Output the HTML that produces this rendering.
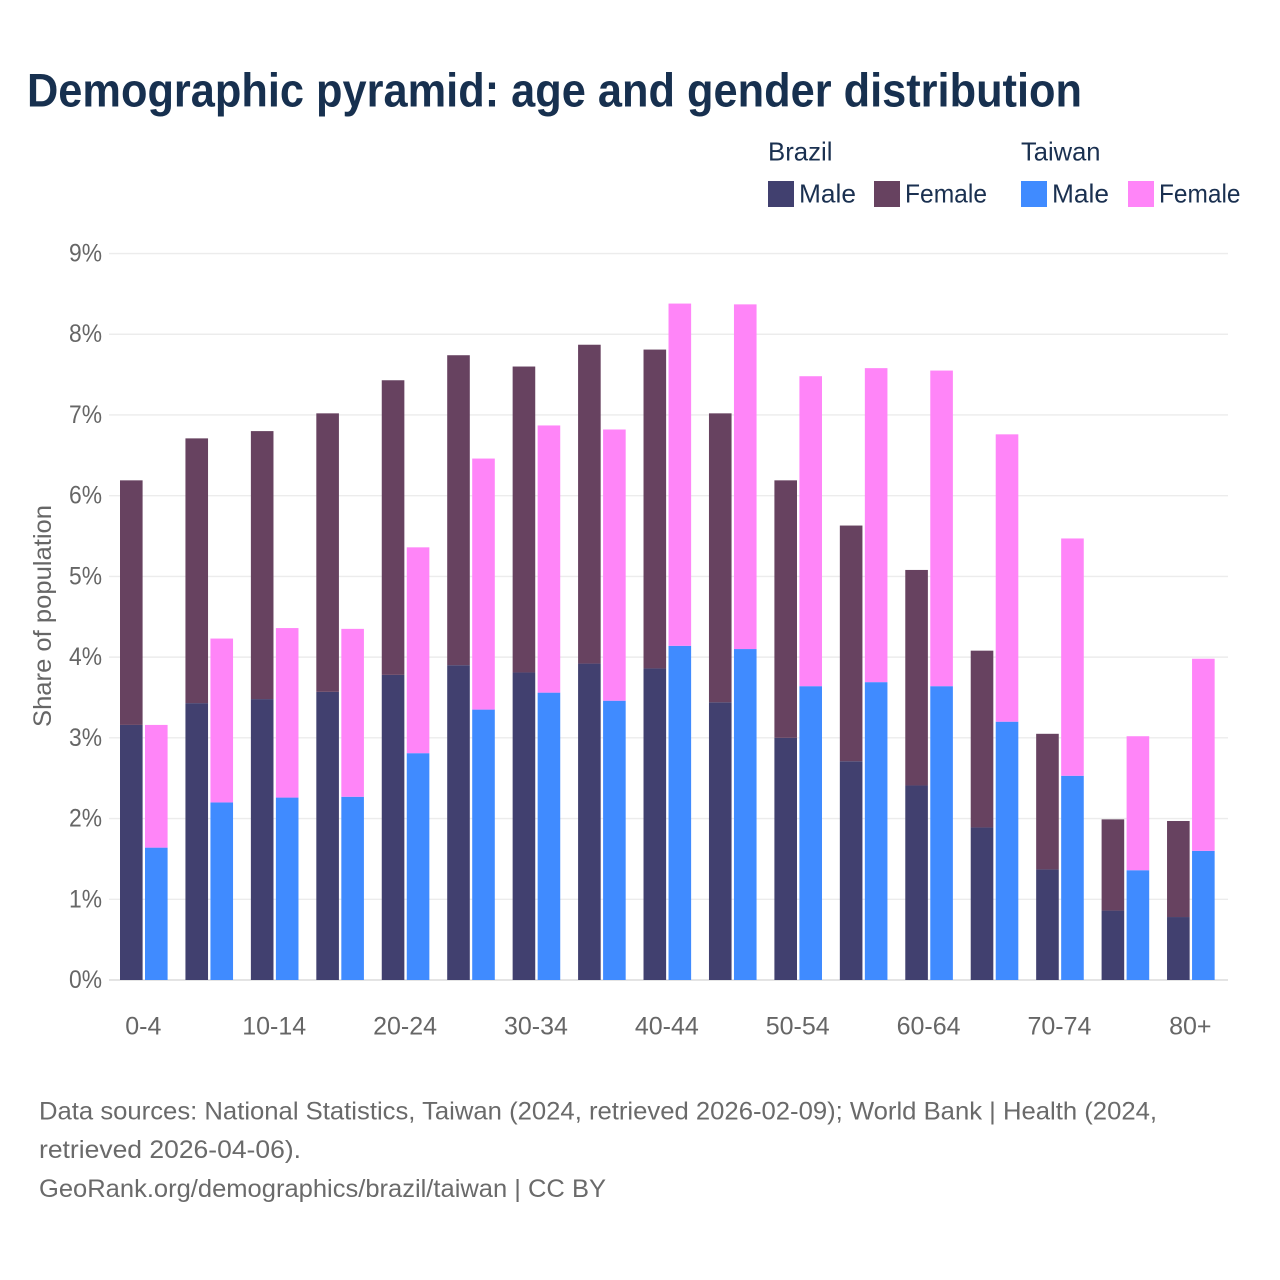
<!DOCTYPE html>
<html lang="en">
<head>
<meta charset="utf-8">
<title>Demographic pyramid: age and gender distribution</title>
<style>
html,body{margin:0;padding:0;background:#fff;width:1280px;height:1280px;overflow:hidden}
svg{display:block}
text{font-family:"Liberation Sans",Arial,sans-serif}
.leg{font-size:26px;fill:#1a3050}
.foot{font-size:25px;fill:#6a6a6a}
.tick{font-size:25px;fill:#666}
</style>
</head>
<body>
<svg id="chart" xmlns="http://www.w3.org/2000/svg" width="1280" height="1280" viewBox="0 0 1280 1280">
  <rect x="0" y="0" width="1280" height="1280" fill="#fff"/>
  <text x="27" y="106.5" font-size="47" font-weight="700" fill="#17304f" textLength="1055" lengthAdjust="spacingAndGlyphs">Demographic pyramid: age and gender distribution</text>

  <g>
    <text class="leg" x="768" y="160.5" textLength="64.5" lengthAdjust="spacingAndGlyphs">Brazil</text>
    <text class="leg" x="1021" y="160.5" textLength="79.5" lengthAdjust="spacingAndGlyphs">Taiwan</text>
    <rect x="768" y="181" width="26" height="26" fill="#41406f"/>
    <text class="leg" x="799" y="202.5" textLength="57" lengthAdjust="spacingAndGlyphs">Male</text>
    <rect x="874" y="181" width="26" height="26" fill="#674260"/>
    <text class="leg" x="905" y="202.5" textLength="82" lengthAdjust="spacingAndGlyphs">Female</text>
    <rect x="1021" y="181" width="26" height="26" fill="#408bff"/>
    <text class="leg" x="1052" y="202.5" textLength="57" lengthAdjust="spacingAndGlyphs">Male</text>
    <rect x="1128" y="181" width="26" height="26" fill="#ff85f8"/>
    <text class="leg" x="1159" y="202.5" textLength="81.5" lengthAdjust="spacingAndGlyphs">Female</text>
  </g>

  <g id="grid"></g>
  <g id="yticks"></g>
  <g id="bars"></g>
  <g id="xticks"></g>

  <text transform="translate(51,727) rotate(-90)" font-size="25" fill="#666" textLength="222" lengthAdjust="spacingAndGlyphs">Share of population</text>

  <g>
    <text class="foot" x="39" y="1119.5" textLength="1118" lengthAdjust="spacingAndGlyphs">Data sources: National Statistics, Taiwan (2024, retrieved 2026-02-09); World Bank | Health (2024,</text>
    <text class="foot" x="39" y="1158" textLength="262" lengthAdjust="spacingAndGlyphs">retrieved 2026-04-06).</text>
    <text class="foot" x="39" y="1197" textLength="567" lengthAdjust="spacingAndGlyphs">GeoRank.org/demographics/brazil/taiwan | CC BY</text>
  </g>
</svg>
<script>
var ageGroups = ["0-4","5-9","10-14","15-19","20-24","25-29","30-34","35-39","40-44","45-49","50-54","55-59","60-64","65-69","70-74","75-79","80+"];
var xTickLabels = ["0-4","10-14","20-24","30-34","40-44","50-54","60-64","70-74","80+"];
var yTickValues = [0,1,2,3,4,5,6,7,8,9];
var brazilMale = [3.16,3.43,3.48,3.57,3.78,3.90,3.81,3.92,3.86,3.44,3.00,2.71,2.41,1.89,1.37,0.86,0.78];
var brazilFemale = [3.03,3.28,3.32,3.45,3.65,3.84,3.79,3.95,3.95,3.58,3.19,2.92,2.67,2.19,1.68,1.13,1.19];
var taiwanMale = [1.64,2.20,2.26,2.27,2.81,3.35,3.56,3.46,4.14,4.10,3.64,3.69,3.64,3.20,2.53,1.36,1.60];
var taiwanFemale = [1.52,2.03,2.10,2.08,2.55,3.11,3.31,3.36,4.24,4.27,3.84,3.89,3.91,3.56,2.94,1.66,2.38];

var NS = "http://www.w3.org/2000/svg";
var Y0 = 980, PX_PER_UNIT = 80.72;
var X0 = 120, STEP = 65.44, BAR_W = 22.6, SECOND_OFFSET = 25;
var GRID_L = 109, GRID_R = 1228;

function yScale(v){ return Y0 - v * PX_PER_UNIT; }
function xScale(i){ return X0 + STEP * i; }
function groupCenter(i){ return xScale(i) + (SECOND_OFFSET + BAR_W) / 2; }

var gridG = document.getElementById("grid");
var yTickG = document.getElementById("yticks");
var barsG = document.getElementById("bars");
var xTickG = document.getElementById("xticks");

yTickValues.forEach(function(v){
  var line = document.createElementNS(NS, "line");
  
  
  line.setAttribute("x1", GRID_L);
  line.setAttribute("x2", GRID_R);
  line.setAttribute("y1", yScale(v));
  line.setAttribute("y2", yScale(v));
  line.setAttribute("stroke", v === 0 ? "#e4e4e4" : "#ececec");
  line.setAttribute("stroke-width", v === 0 ? 2 : 1.4);
  gridG.appendChild(line);

  var t = document.createElementNS(NS, "text");
  
  
  t.setAttribute("class", "tick");
  t.setAttribute("x", 102);
  t.setAttribute("y", yScale(v) + 8);
  t.setAttribute("text-anchor", "end");
  t.setAttribute("textLength", 33);
  t.setAttribute("lengthAdjust", "spacingAndGlyphs");
  t.textContent = v + "%";
  yTickG.appendChild(t);
});

function drawSegment(name, x, base, value, fill){
  var top = yScale(base + value);
  var r = document.createElementNS(NS, "rect");
  
  
  r.setAttribute("x", x);
  r.setAttribute("y", top);
  r.setAttribute("width", BAR_W);
  r.setAttribute("height", yScale(base) - top);
  r.setAttribute("fill", fill);
  barsG.appendChild(r);
}

ageGroups.forEach(function(age, i){
  var xa = xScale(i), xb = xa + SECOND_OFFSET;
  drawSegment("bar-brazil-male-" + age, xa, 0, brazilMale[i], "#41406f");
  drawSegment("bar-brazil-female-" + age, xa, brazilMale[i], brazilFemale[i], "#674260");
  drawSegment("bar-taiwan-male-" + age, xb, 0, taiwanMale[i], "#408bff");
  drawSegment("bar-taiwan-female-" + age, xb, taiwanMale[i], taiwanFemale[i], "#ff85f8");
});

xTickLabels.forEach(function(label){
  var t = document.createElementNS(NS, "text");
  
  
  t.setAttribute("class", "tick");
  t.setAttribute("x", groupCenter(ageGroups.indexOf(label)) - 0.5);
  t.setAttribute("y", 1034.5);
  t.setAttribute("text-anchor", "middle");
  t.textContent = label;
  xTickG.appendChild(t);
});
</script>
</body>
</html>
